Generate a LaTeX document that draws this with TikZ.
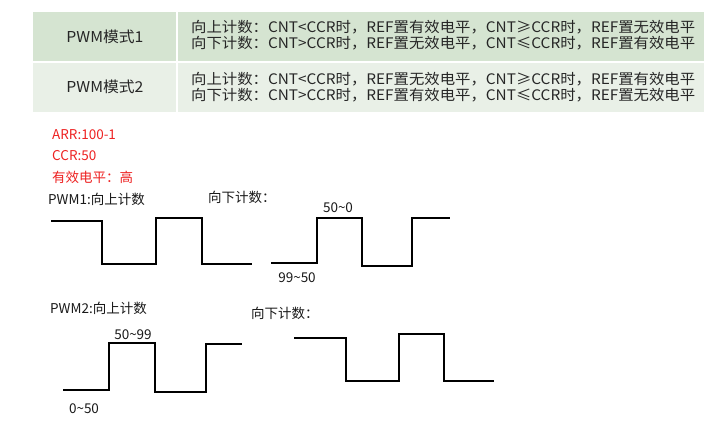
\documentclass[tikz,border=0pt]{standalone}
\usepackage{fontspec}
\setmainfont{Noto Sans CJK SC}
\usepackage{graphicx}
\definecolor{rowA}{HTML}{D5E4D1}
\definecolor{rowB}{HTML}{E9F0E7}
\definecolor{redtxt}{HTML}{EE2222}
\definecolor{tabtxt}{HTML}{262626}
\begin{document}
\begin{tikzpicture}[x=1pt,y=-1pt,
  wave/.style={line width=2pt, line join=miter, black},
  lbl/.style={inner sep=0pt, anchor=west, font=\fontsize{13.5}{15}\selectfont, text=black!90},
  redlbl/.style={lbl, text=redtxt},
  numlbl/.style={inner sep=0pt, font=\fontsize{13.5}{15}\selectfont, text=black!90},
  cell/.style={inner sep=0pt, font=\fontsize{15}{17}\selectfont, text=tabtxt},
  cellL/.style={inner sep=0pt, anchor=west, font=\fontsize{14.5}{16}\selectfont, text=tabtxt},
  sep/.style={white, line width=1.2pt}]
\useasboundingbox (0,0) rectangle (706,422);
\fill[white] (0,0) rectangle (706,422);
% table
\fill[rowA] (33,12) rectangle (704,62);
\fill[rowB] (33,62) rectangle (704,112);
\draw[sep] (177,12) -- (177,112);
\draw[sep] (33,62) -- (704,62);
\node[cell] (m1) at (105,37) {\resizebox{77pt}{\height}{PWM模式1}};
\node[cell] (m2) at (105,87) {\resizebox{77pt}{\height}{PWM模式2}};
\node[cellL] (r1a) at (191,27) {\resizebox{504pt}{\height}{向上计数：CNT<CCR时，REF置有效电平，CNT≥CCR时，REF置无效电平}};
\node[cellL] (r1b) at (191,43) {\resizebox{504pt}{\height}{向下计数：CNT>CCR时，REF置无效电平，CNT≤CCR时，REF置有效电平}};
\node[cellL] (r2a) at (191,79) {\resizebox{504pt}{\height}{向上计数：CNT<CCR时，REF置无效电平，CNT≥CCR时，REF置有效电平}};
\node[cellL] (r2b) at (191,95) {\resizebox{504pt}{\height}{向下计数：CNT>CCR时，REF置有效电平，CNT≤CCR时，REF置无效电平}};
% red notes
\node[redlbl] (arr) at (52,135) {ARR:100-1};
\node[redlbl] (ccr) at (52,156) {CCR:50};
\node[redlbl] (lvl) at (52,177) {有效电平：高};
% titles
\node[lbl] (p1up) at (48,199) {PWM1:向上计数};
\node[lbl] (p1dn) at (208,197) {向下计数：};
\node[lbl] (p2up) at (50,308) {PWM2:向上计数};
\node[lbl] (p2dn) at (251,313) {向下计数：};
% waveforms
\draw[wave] (51,221) -- (102,221) -- (102,264) -- (156,264) -- (156,218) -- (202,218) -- (202,264) -- (252,264);
\draw[wave] (271,263) -- (317,263) -- (317,218) -- (362,218) -- (362,266) -- (412,266) -- (412,218) -- (450,218);
\draw[wave] (63,390) -- (109,390) -- (109,343) -- (155,343) -- (155,392) -- (206,392) -- (206,344) -- (242,344);
\draw[wave] (294,338) -- (346,338) -- (346,381) -- (399,381) -- (399,334) -- (444,334) -- (444,381) -- (494,381);
% value labels
\node[numlbl] (v500) at (338,208) {50\char`~0};
\node[numlbl] (v9950) at (297,278) {99\char`~50};
\node[numlbl] (v5099) at (133,335) {50\char`~99};
\node[numlbl] (v050) at (84,409) {0\char`~50};
\end{tikzpicture}
\end{document}
